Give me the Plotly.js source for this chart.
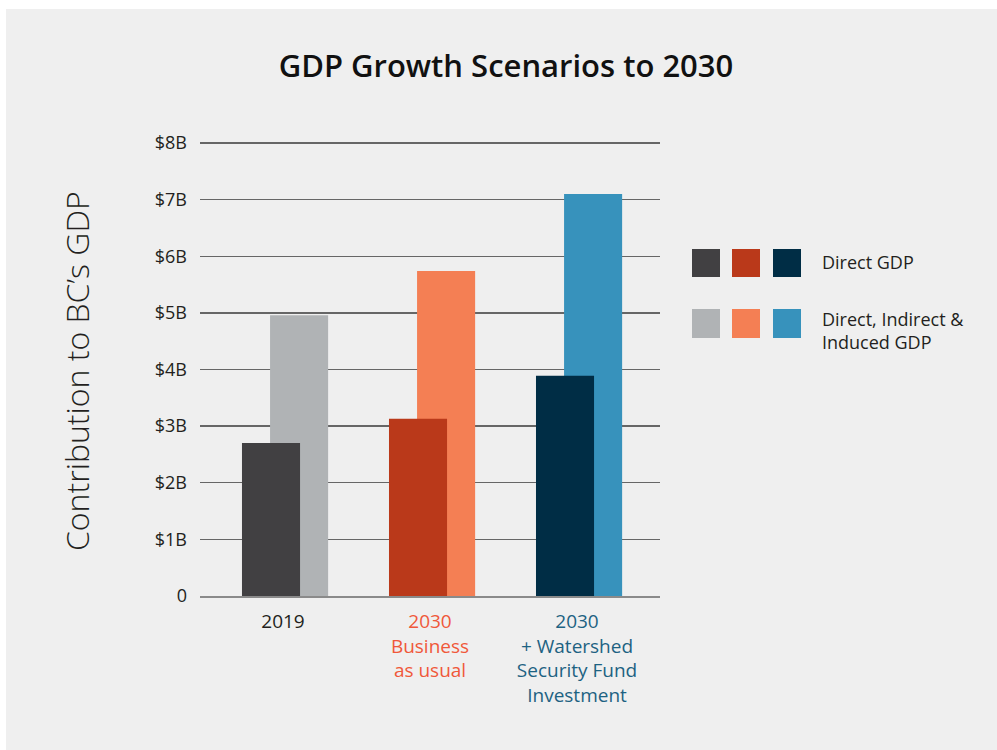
<!DOCTYPE html>
<html>
<head>
<meta charset="utf-8">
<script src="https://cdn.plot.ly/plotly-3.0.1.min.js"></script>
<style>
  html, body { margin: 0; padding: 0; background: #ffffff; }
  #panel { position: absolute; left: 6px; top: 9px; width: 991px; height: 741px; background: #efefef; }
  #chart { position: absolute; left: 0; top: 0; width: 997px; height: 750px; }
</style>
</head>
<body>
<div id="panel"></div>
<div id="chart"></div>
<script>
// ---- data ----
const categories = ["2019", "2030 Business as usual", "2030 + Watershed Security Fund Investment"];
const tickLabels = ["2019", "2030<br>Business<br>as usual", "2030<br>+ Watershed<br>Security Fund<br>Investment"];
const directGDP = [2.70, 3.13, 3.89];          // $B
const totalGDP = [4.96, 5.74, 7.10];           // $B (direct, indirect & induced)
const yTickVals = [0, 1, 2, 3, 4, 5, 6, 7, 8];
const yTickText = ["0", "$1B", "$2B", "$3B", "$4B", "$5B", "$6B", "$7B", "$8B"];
const legendNames = ["Direct GDP", "Direct, Indirect &<br>Induced GDP"];

// ---- styles ----
const directColors = ["#414042", "#ba391a", "#002d45"];
const totalColors = ["#b0b3b5", "#f47f54", "#3792bc"];
const labelColors = ["#231f20", "#f0583a", "#1d6282"];
const FONT = "Open Sans, Lato, sans-serif";

// plot area in pixels (top padded 2px so the $8B grid line is drawn)
const L = 200, R = 660, T = 141, B = 596;
const px = x => (x - L) / (R - L);
const py = y => (B - y) / (B - T);

const coloredTicks = tickLabels.map((t, i) => '<span style="color:' + labelColors[i] + '">' + t + '</span>');

const traces = [
  {
    type: "bar", x: categories, y: totalGDP, name: "Direct, Indirect & Induced GDP",
    marker: { color: totalColors, line: { width: 0 } },
    width: 0.395, offset: -0.088, hoverinfo: "y"
  },
  {
    type: "bar", x: categories, y: directGDP, name: "Direct GDP",
    marker: { color: directColors, line: { width: 0 } },
    width: 0.395, offset: -0.279, hoverinfo: "y"
  }
];

// legend squares built as shapes
const shapes = [];
const sqX = [692, 732, 773];
const rowsY = [[249, 277], [309, 338]];
const rowColors = [directColors, totalColors];
rowsY.forEach((ry, r) => {
  sqX.forEach((sx, i) => {
    shapes.push({
      type: "rect", xref: "paper", yref: "paper",
      x0: px(sx), x1: px(sx + 28), y0: py(ry[1]), y1: py(ry[0]),
      fillcolor: rowColors[r][i], line: { width: 0 }
    });
  });
});

const annotations = [
  {
    text: "Contribution to BC’s GDP", xref: "paper", yref: "paper",
    x: px(76), y: py(371), xanchor: "center", yanchor: "middle",
    textangle: -90, showarrow: false,
    font: { family: FONT, size: 32, color: "#231f20", weight: 300 }
  },
  {
    text: legendNames[0], xref: "paper", yref: "paper",
    x: px(820), y: py(262), xanchor: "left", yanchor: "middle",
    showarrow: false, align: "left",
    font: { family: FONT, size: 18, color: "#231f20" }
  },
  {
    text: legendNames[1], xref: "paper", yref: "paper",
    x: px(820), y: py(330), xanchor: "left", yanchor: "middle",
    showarrow: false, align: "left",
    font: { family: FONT, size: 18, color: "#231f20" }
  }
];

const layout = {
  width: 997, height: 750,
  paper_bgcolor: "rgba(0,0,0,0)", plot_bgcolor: "rgba(0,0,0,0)",
  margin: { l: L, r: 997 - R, t: T, b: 750 - B, pad: 0 },
  barmode: "overlay",
  showlegend: false,
  title: {
    text: "GDP Growth Scenarios to 2030",
    xref: "container", yref: "container",
    x: 506 / 997, y: 1 - 66 / 750, xanchor: "center", yanchor: "middle",
    font: { family: FONT, size: 31, color: "#111111", weight: 600 }
  },
  xaxis: {
    type: "category",
    range: [-0.5646, 2.5646],
    tickvals: categories, ticktext: coloredTicks,
    showgrid: false, zeroline: false,
    showline: true, linecolor: "#8a8a8a", linewidth: 2, layer: "above traces",
    ticks: "", ticklabelstandoff: 7,
    tickfont: { family: FONT, size: 19, color: "#231f20" },
    fixedrange: true
  },
  yaxis: {
    range: [0, 8.035],
    tickvals: yTickVals, ticktext: yTickText,
    showgrid: true, gridcolor: "#666666", gridwidth: 1.3,
    zeroline: false, showline: false,
    ticks: "", ticklabelstandoff: 12,
    tickfont: { family: FONT, size: 18, color: "#231f20" },
    fixedrange: true
  },
  shapes: shapes,
  annotations: annotations
};

Plotly.newPlot("chart", traces, layout, { displayModeBar: false, staticPlot: true });
</script>
</body>
</html>
